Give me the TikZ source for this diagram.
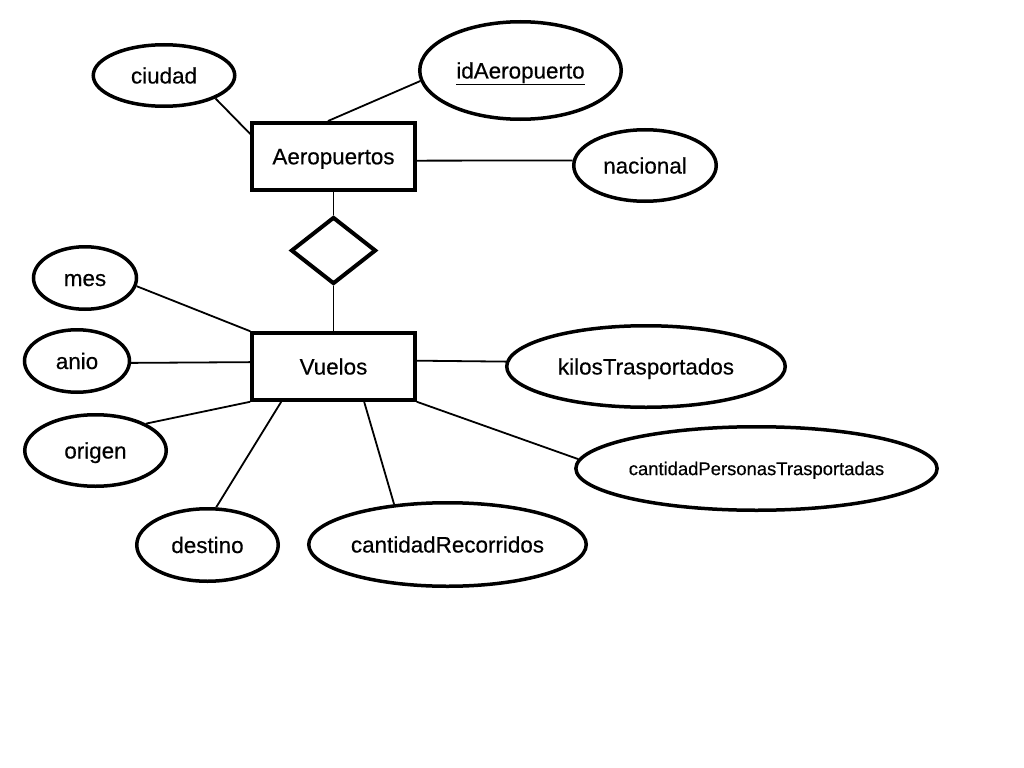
\documentclass[tikz,border=0pt]{standalone}
\usepackage{fontspec}
\setmainfont{Liberation Sans}[FakeBold=0.4]
\usetikzlibrary{shapes.geometric}

\begin{document}
\begin{tikzpicture}[x=1bp,y=-1bp,
  entidad/.style={draw, rectangle, line width=4bp, inner sep=0pt,
    minimum width=162.5bp, minimum height=66.5bp},
  relacion/.style={draw, diamond, line width=4bp, inner sep=0pt,
    minimum width=85bp, minimum height=67bp},
  atributo/.style={draw, ellipse, line width=3.5bp, inner sep=0pt},
  enlace/.style={line width=1.8bp}]
\tikzset{every node/.append style={font=\fontsize{22.5}{27}\selectfont, text height=16bp, text depth=0pt}}
\useasboundingbox (0,0) rectangle (1024,768);
\node [entidad] (aero) at (333.5,156.3) {Aeropuertos};
\node [relacion, text height=0pt] (rel) at (333.5,250.5) {};
\node [entidad] (vuelos) at (333.5,366.5) {Vuelos};
\node [atributo, minimum width=141.5bp, minimum height=61.5bp] (ciudad) at (164,75.5) {ciudad};
\node [atributo, minimum width=201.5bp, minimum height=97.5bp] (idaero) at (520.5,70.5) {\underline{idAeropuerto}};
\node [atributo, minimum width=142.5bp, minimum height=71.5bp] (nacional) at (645,165.5) {nacional};
\node [atributo, minimum width=103bp, minimum height=62.5bp] (mes) at (85,278) {mes};
\node [atributo, minimum width=105bp, minimum height=62.5bp] (anio) at (77,361) {anio};
\node [atributo, minimum width=141.5bp, minimum height=71.5bp] (origen) at (95.5,450.5) {origen};
\node [atributo, minimum width=141.5bp, minimum height=72.5bp] (destino) at (207.5,545) {destino};
\node [atributo, minimum width=277.5bp, minimum height=83.5bp] (recorridos) at (447.5,544.5) {cantidadRecorridos};
\node [atributo, minimum width=278.5bp, minimum height=81.5bp] (kilos) at (646,366.5) {kilosTrasportados};
\node [atributo, minimum width=339.5bp, minimum height=83.5bp, font=\fontsize{18.5}{22}\selectfont, text height=13.2bp] (personas) at (756.5,468.5) {cantidadPersonasTrasportadas};
\draw [enlace] (aero.south) -- (rel.north);
\draw [enlace] (rel.south) -- (vuelos.north);
\draw [enlace] (ciudad.-24) -- (aero.165);
\draw [enlace] (idaero.186) -- (aero.99);
\draw [enlace] (nacional.176) -- (aero.-3);
\draw [enlace] (mes.-9) -- (vuelos.north west);
\draw [enlace] (anio.-2) -- (vuelos.177);
\draw [enlace] (origen.28) -- (vuelos.south west);
\draw [enlace] (destino.77) -- (vuelos.214);
\draw [enlace] (recorridos.143) -- (vuelos.-49);
\draw [enlace] (kilos.178) -- (vuelos.4);
\draw [enlace] (personas.177) -- (vuelos.south east);
\end{tikzpicture}
\end{document}
